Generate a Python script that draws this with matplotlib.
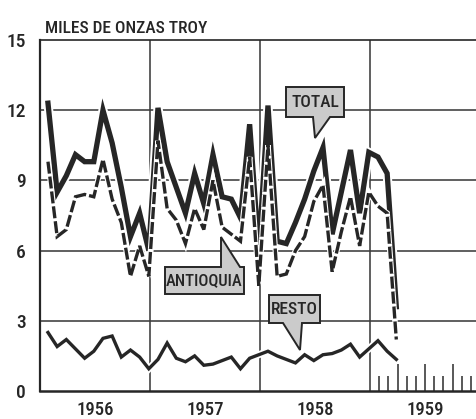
import numpy as np
import matplotlib
matplotlib.use('Agg')
import matplotlib.pyplot as plt
from matplotlib import font_manager as fm
import matplotlib.patheffects as pe
import matplotlib.transforms as mtransforms
from matplotlib.patches import Polygon

# ---------------- data (thousand troy ounces, monthly Jan-1956 .. Mar-1959)
total = [12.3, 8.5, 9.2, 10.1, 9.8, 9.8, 12.0, 10.6, 8.7, 6.6, 7.6, 6.0,
         12.1, 9.8, 8.7, 7.6, 9.3, 8.0, 10.1, 8.3, 8.2, 7.4, 11.4, 6.0,
         12.2, 6.4, 6.3, 7.2, 8.2, 9.4, 10.4, 6.7, 8.5, 10.3, 7.6, 10.2, 10.0, 9.3, 3.6]
antioquia = [9.8, 6.6, 6.9, 8.3, 8.4, 8.3, 9.9, 8.2, 7.2, 4.9, 6.2, 4.9,
             10.7, 7.8, 7.3, 6.3, 7.8, 6.9, 9.0, 7.0, 6.7, 6.4, 10.0, 4.5,
             10.5, 4.9, 5.0, 6.0, 6.6, 8.1, 8.8, 5.1, 6.8, 8.3, 6.2, 8.5, 7.9, 7.6, 2.2]
resto = [2.5, 1.9, 2.2, 1.8, 1.4, 1.7, 2.25, 2.35, 1.45, 1.75, 1.45, 0.95,
         1.35, 2.05, 1.4, 1.25, 1.5, 1.1, 1.15, 1.3, 1.45, 0.95, 1.4, 1.55,
         1.7, 1.5, 1.35, 1.2, 1.55, 1.3, 1.55, 1.6, 1.75, 2.0, 1.45, 1.8, 2.15, 1.7, 1.35]
years = ['1956', '1957', '1958', '1959']
yticks = [0, 3, 6, 9, 12, 15]
title = 'MILES DE ONZAS TROY'
series_labels = ['TOTAL', 'ANTIOQUIA', 'RESTO']

# ---------------- fonts
def pick_font():
    prefs = ['liberationsansnarrow-regular', 'liberationsansnarrow.', 'robotocondensed-medium',
             'robotocondensed-regular', 'dejavusanscondensed.', 'opensans_condensed', 'opensanscondensed']
    files = [f.fname for f in fm.fontManager.ttflist]
    for p in prefs:
        for fn in files:
            base = fn.lower().replace(' ', '').split('/')[-1]
            if base.startswith(p) or p in base:
                return fm.FontProperties(fname=fn)
    for fn in files:
        b = fn.lower()
        if ('narrow' in b or 'condensed' in b) and 'italic' not in b and 'oblique' not in b:
            return fm.FontProperties(fname=fn)
    return fm.FontProperties(family='DejaVu Sans')

base_fp = pick_font()
def fp(size):
    f = base_fp.copy()
    f.set_size(size)
    return f

INK = '#262626'
GRID = '#3c3c3c'

W, H = 477, 419
fig = plt.figure(figsize=(W / 100, H / 100), dpi=100)
ax = fig.add_axes([40 / W, 28 / H, (W - 40) / W, (391 - 40) / H])
px = mtransforms.Affine2D().scale(1, -1).translate(0, H)  # image pixel coords

months_per_px = 12 / 110.0
ax.set_xlim(0, (W - 40) * months_per_px)
ax.set_ylim(0, 15)

ax.spines['right'].set_visible(False)
ax.spines['left'].set_linewidth(1.6)
ax.spines['bottom'].set_linewidth(1.8)
ax.spines['top'].set_linewidth(1.2)
for s in ['left', 'bottom', 'top']:
    ax.spines[s].set_color(INK)

# grid
for y in yticks[1:-1]:
    ax.axhline(y, color=GRID, lw=1.15, zorder=1)
for k in range(1, len(years)):
    ax.axvline(12 * k, color=GRID, lw=1.15, zorder=1)

# monthly ticks in the last year
for m in range(1, 12):
    h = 1.15 if m % 3 == 0 else 0.62
    ax.vlines(36 + m, 0, h, color=GRID, lw=1.2, zorder=1)

ax.set_xticks([])
ax.set_yticks(yticks)
ax.set_yticklabels([str(v) for v in yticks])
for lab in ax.get_yticklabels():
    lab.set_fontproperties(fp(14))
    lab.set_color(INK)
ax.tick_params(axis='y', length=0, pad=10)

x = np.arange(len(total)) + 0.87
halo = lambda w: [pe.Stroke(linewidth=w, foreground='white'), pe.Normal()]
ax.plot(x, resto, color=INK, lw=2.4, solid_joinstyle='miter', zorder=3, path_effects=halo(5))
ax.plot(x, total, color=INK, lw=3.8, solid_joinstyle='miter', zorder=4, path_effects=halo(6.6))
ax.plot(x, antioquia, color=INK, lw=2.4, dashes=(3.6, 0.9), gapcolor='white',
        solid_joinstyle='miter', dash_joinstyle='miter', zorder=5, path_effects=halo(4.0))

# year labels
for k, yr in enumerate(years):
    ax.text(12 * k + 6, -0.81, yr, ha='center', va='center', fontproperties=fp(13.5),
            color=INK, clip_on=False)

fig.text(45, 33, title, transform=px, ha='left', va='baseline', fontproperties=fp(12.5), color=INK)

# call-out labels (image pixel coords)
callouts = {
    'TOTAL': [(286, 87), (344, 87), (344, 117), (330, 117), (315, 138), (313, 117), (286, 117)],
    'ANTIOQUIA': [(165, 267), (221, 267), (221, 237), (240, 267), (244, 267), (244, 294), (165, 294)],
    'RESTO': [(269, 295), (320, 295), (320, 323), (302, 323), (300, 350), (283, 323), (269, 323)],
}
centers = {'TOTAL': (315, 102.5), 'ANTIOQUIA': (204.5, 281), 'RESTO': (294.5, 309.5)}
for name in series_labels:
    poly = Polygon(callouts[name], closed=True, transform=px, facecolor='#cbcbcb',
                   edgecolor=INK, lw=1.4, zorder=8, joinstyle='miter')
    fig.add_artist(poly)
    cx, cy = centers[name]
    size = 12 if name == 'ANTIOQUIA' else 12.5
    fig.text(cx, cy, name, transform=px, ha='center', va='center', fontproperties=fp(size),
             color=INK, zorder=9)

fig.savefig('out.png', dpi=100)
